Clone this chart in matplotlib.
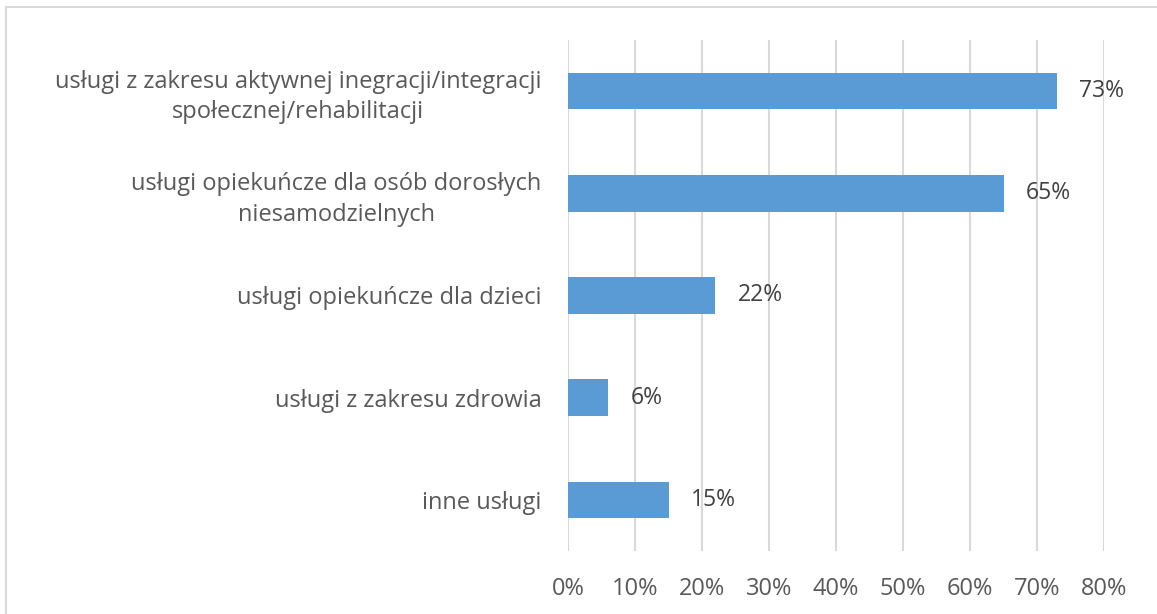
import matplotlib.pyplot as plt
from matplotlib.patches import Rectangle

plt.rcParams["font.family"] = ["Open Sans", "DejaVu Sans"]

categories = [
    "usługi z zakresu aktywnej inegracji/integracji\nspołecznej/rehabilitacji",
    "usługi opiekuńcze dla osób dorosłych\nniesamodzielnych",
    "usługi opiekuńcze dla dzieci",
    "usługi z zakresu zdrowia",
    "inne usługi",
]
values = [73, 65, 22, 6, 15]
ticks = [0, 10, 20, 30, 40, 50, 60, 70, 80]

text_color = "#595959"
bar_color = "#5B9BD5"
grid_color = "#D9D9D9"

fig = plt.figure(figsize=(11.57, 6.14), dpi=100)
ax = fig.add_axes([568 / 1157, 1 - 551 / 614, (1104 - 568) / 1157, (551 - 40) / 614])

# frame around the whole chart area
fig.patches.append(Rectangle((6 / 1157, -0.1), 1.2, 1.1 - 7 / 614,
                             transform=fig.transFigure, fill=False,
                             edgecolor=grid_color, linewidth=1.5))

pos = list(range(len(categories)))
ax.barh(pos, values, height=0.36, color=bar_color, zorder=3)

for y, v in zip(pos, values):
    ax.annotate(f"{v}%", (v, y), xytext=(16, 0), textcoords="offset points",
                va="center", ha="left", fontsize=16.5, color="#404040")

ax.set_xlim(0, 80)
ax.set_ylim(len(categories) - 0.5, -0.5)
ax.set_xticks(ticks)
ax.set_xticklabels([f"{t}%" for t in ticks])
ax.set_yticks(pos)
ax.set_yticklabels(categories)
for lbl in ax.get_yticklabels():
    lbl.set_multialignment("center")
    lbl.set_linespacing(1.35)

ax.tick_params(axis="x", length=0, pad=19, labelsize=17, colors=text_color)
ax.tick_params(axis="y", length=0, pad=19, labelsize=17, colors=text_color)
ax.grid(axis="x", color=grid_color, linewidth=1.5, zorder=0)
for s in ax.spines.values():
    s.set_visible(False)

fig.savefig("out.png", dpi=100)
